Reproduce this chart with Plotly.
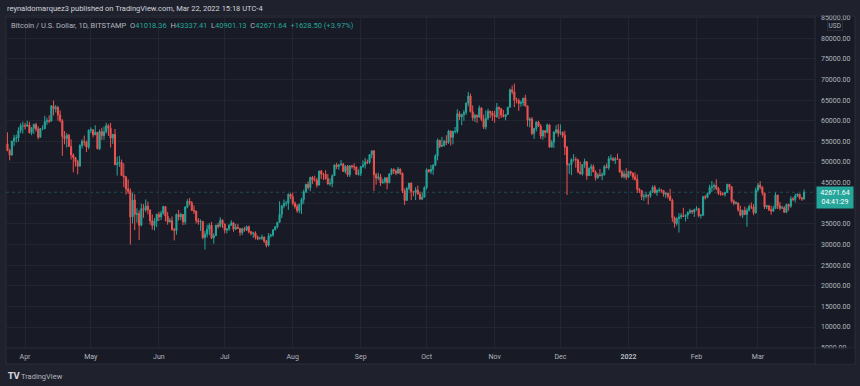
import plotly.graph_objects as go
import pandas as pd

# ---------------- data (BTC/USD daily, Bitstamp) ----------------
start_date = "2021-03-24"

opens = [
    54400, 52800, 51700, 55100, 55800, 55800, 57600, 58800,
    58800, 58700, 59000, 57100, 58200, 59100, 58000, 56000, 58100, 58100, 59800, 60000, 59900, 63600, 62900, 63200, 61400, 60000, 56200, 55700, 56500, 53800, 51700, 51100, 50100, 49000, 54000, 55000, 54800, 53600,
    57700, 57800, 56600, 57200, 53200, 57400, 56400, 57300, 58800, 58200, 55800, 56700, 49400, 49700, 49900, 46700, 46400, 43500, 42900, 36700, 40800, 37300, 37500, 34700, 38700, 38400, 39300, 38400, 35700, 34600, 35700,
    37300, 36700, 37600, 39200, 36900, 35500, 35800, 33600, 33400, 37300, 36700, 37300, 35500, 39100, 40500, 40100, 38300, 38100, 35800, 35500, 35600, 31700, 32500, 33700, 34700, 31600, 32200, 34700, 34400, 35900,
    35000, 33500, 33800, 34700, 35300, 33700, 34200, 33900, 32900, 33800, 33500, 34300, 33100, 32700, 32800, 31800, 31400, 31500, 31800, 30800, 29800, 32100, 32300, 33600, 34300, 35400, 37300, 39400, 40000, 40000, 42200,
    41600, 40000, 39200, 38200, 39700, 40900, 42800, 44600, 43800, 46300, 45600, 45600, 44400, 47800, 47100, 47000, 46000, 44700, 44800, 46700, 49300, 48900, 49300, 49500, 47700, 49000, 46900, 49100, 48900, 48800, 47000,
    47200, 48900, 49300, 50000, 49900, 51800, 52700, 46900, 46100, 46400, 44900, 45200, 46100, 45000, 47100, 48200, 47800, 47300, 48300, 47300, 43000, 40700, 43600, 44900, 42800, 42700, 43200, 42200, 41000, 41500,
    43800, 48100, 47700, 48200, 49200, 51500, 55300, 53800, 54000, 55000, 54700, 57500, 56000, 57400, 57400, 61700, 60900, 61500, 62000, 64300, 66000, 62200, 60700, 61300, 60900, 63100, 60300, 58500, 60600, 62300, 61900,
    61300, 61000, 63200, 62900, 61400, 61000, 61500, 63300, 67500, 67000, 65000, 64900, 64200, 64400, 65500, 63600, 60100, 60400, 56900, 58100, 59700, 58700, 56300, 57600, 57200, 59000, 53600, 54800, 57300, 57800,
    57000, 57200, 56500, 53600, 49300, 49400, 50600, 50600, 50500, 47600, 47100, 49400, 50100, 46700, 48400, 48900, 47600, 46200, 46900, 46700, 46900, 48900, 48600, 50800, 50800, 50400, 50800, 50700, 47600, 46500, 47100,
    46300, 47700, 47300, 46400, 45800, 43400, 43100, 41600, 41700, 41900, 41800, 42700, 43900, 42600, 43100, 43200, 43100, 42200, 42400, 41700, 40700, 36500, 35100, 36300, 36700, 37000, 36800, 37100, 37800, 38200, 37900,
    38500, 38700, 37000, 37100, 41600, 41400, 42400, 43800, 44100, 44300, 43600, 42400, 42200, 42200, 42600, 44600, 44000, 40500, 40000, 40100, 38400, 37100, 38300, 37300, 38300, 39200, 39100, 37700,
    43200, 44400, 43900, 42500, 39100, 39400, 38400, 38100, 38700, 42000, 39400, 38800, 38900, 37800, 39700, 39300, 41100, 40900, 41800, 42200, 41300, 41018.36,
]

highs = [
    57200, 53200, 55100, 56600, 56600, 58400, 59400, 59800,
    59500, 60000, 59800, 58500, 59300, 59500, 58700, 58200, 58900, 61200, 60700, 61300, 63800, 64900, 63800, 63600, 62500, 60400, 57500, 57000, 56800, 55500, 52100, 51200, 50500, 54300, 55500, 56400, 55200, 57900,
    58400, 57900, 58900, 57200, 57900, 58300, 58600, 59500, 59200, 59500, 56800, 58000, 51300, 51500, 50600, 49700, 46600, 45800, 43600, 42500, 42200, 38800, 38300, 39900, 39800, 40900, 40400, 38400, 37300, 36400, 37500,
    37900, 38200, 39400, 39200, 37900, 36400, 36800, 34000, 37500, 38400, 37700, 37400, 39300, 41000, 41300, 40500, 39500, 38200, 36400, 36100, 35700, 33300, 34800, 35200, 35500, 32700, 34700, 35300, 36600, 36100,
    35000, 33900, 34900, 35900, 35300, 35000, 35000, 33900, 34100, 34300, 34600, 34600, 33300, 33100, 33200, 32200, 31900, 32400, 31900, 31100, 32800, 32600, 33600, 34500, 35400, 40500, 39500, 40900, 40600, 42300, 42400,
    42600, 40400, 39800, 39900, 41300, 43300, 44700, 45300, 46400, 46600, 46700, 46200, 47900, 48100, 47400, 48000, 47100, 46000, 47000, 49400, 49800, 49500, 50500, 49800, 49200, 49300, 49200, 49300, 49700, 48900, 48200,
    49000, 50400, 51000, 50600, 51900, 52800, 52900, 47400, 47400, 47100, 45900, 46400, 46400, 47300, 48500, 48500, 48200, 48800, 48400, 47400, 43600, 44000, 44900, 45000, 42900, 43900, 44300, 42800, 42600, 44100,
    48500, 48300, 49300, 49500, 51900, 55700, 55300, 56100, 55400, 56500, 57800, 57600, 57600, 58500, 62800, 62300, 61700, 62600, 64400, 67000, 66600, 63700, 61700, 61500, 63700, 63300, 61500, 62500, 62900, 62400, 62400,
    62400, 64300, 63500, 63100, 62600, 61600, 63300, 67800, 68500, 69000, 65600, 65400, 64900, 65500, 66300, 63600, 60800, 60900, 58300, 59800, 60000, 59200, 57800, 57600, 59300, 59200, 55300, 57400, 58900, 59200,
    59100, 57400, 57600, 53900, 49700, 50900, 51900, 51200, 50800, 50100, 49500, 50800, 50200, 48700, 49500, 49400, 48000, 47300, 48300, 47500, 49300, 49600, 51400, 51800, 51200, 51200, 52000, 50700, 48100, 47900, 48500,
    47900, 47900, 47500, 47500, 47000, 43700, 43100, 42300, 42800, 42200, 43100, 44300, 44400, 43400, 43800, 43500, 43200, 42700, 42500, 43500, 41100, 36800, 36600, 37600, 37600, 38900, 37300, 38000, 38700, 38400, 38700,
    39300, 38900, 37400, 41800, 42000, 42600, 44500, 45400, 44800, 45800, 43900, 43000, 42700, 42800, 44700, 44600, 44200, 40900, 40500, 40100, 39400, 38400, 39200, 38900, 39700, 40200, 39800, 43800,
    44900, 45400, 44100, 42500, 39600, 39500, 39400, 39400, 42600, 42000, 40300, 39400, 39300, 39900, 39900, 41700, 41500, 42300, 42400, 42300, 41500, 43337.41,
]

lows = [
    52600, 50400, 51500, 53900, 54700, 54900, 57000, 56900,
    57900, 58500, 56900, 56500, 56800, 57400, 55500, 55900, 57700, 57900, 59000, 59400, 59900, 61300, 62000, 60000, 59600, 51500, 54300, 53500, 53700, 50600, 47500, 48900, 47000, 48900, 53300, 53900, 52400, 53100,
    57000, 56000, 56500, 53100, 52900, 55300, 55400, 56900, 56300, 53500, 54400, 49200, 46700, 48800, 46600, 43900, 42100, 42300, 30000, 35100, 33500, 35300, 31100, 34400, 36500, 37900, 37300, 34800, 33600, 33400, 34200,
    35700, 35900, 37200, 35600, 34800, 35300, 33400, 31000, 32400, 35800, 35900, 34700, 34800, 38800, 39500, 38100, 37400, 35100, 34800, 33300, 31300, 28800, 31700, 32300, 31300, 30200, 32000, 33900, 34200, 34000,
    32700, 32700, 33300, 34500, 33100, 33600, 33800, 32100, 32300, 33100, 33300, 32700, 32200, 31600, 31200, 31100, 31200, 31100, 30400, 29300, 29500, 31700, 31900, 33400, 33900, 35300, 36400, 38800, 39300, 38400, 41000,
    39500, 38700, 37700, 37600, 37400, 39900, 42500, 43300, 42900, 44700, 45300, 43800, 44300, 45900, 45600, 45700, 44500, 44200, 43900, 46600, 48300, 48100, 49100, 47600, 47200, 46400, 46400, 48400, 48000, 46900, 46700,
    46600, 48600, 48400, 49500, 49500, 50900, 43000, 44500, 45600, 44200, 44800, 44800, 43400, 44800, 46800, 47100, 46800, 47100, 46900, 42500, 39600, 40600, 43100, 40800, 41700, 40800, 42200, 40900, 40800, 41400,
    43300, 47400, 47100, 46900, 49100, 50400, 53400, 53700, 53700, 54100, 54400, 54000, 54300, 56900, 56900, 60200, 58900, 60000, 61400, 63500, 62000, 60000, 59700, 59500, 60700, 59900, 58000, 57900, 60200, 60700, 60000,
    59500, 60700, 60400, 60700, 60800, 60100, 61400, 63200, 66400, 63300, 64200, 62400, 63400, 63600, 63400, 58600, 58400, 56500, 55600, 57400, 58500, 55600, 55400, 55900, 57000, 53500, 53600, 53400, 56800, 56100,
    56500, 55900, 51700, 42000, 47100, 46800, 50100, 48600, 47300, 47000, 46700, 48600, 45700, 46600, 46600, 47600, 45500, 45900, 46500, 45600, 46700, 48500, 48100, 50400, 50200, 49500, 50500, 47400, 46100, 46000, 45700,
    46200, 46700, 45700, 45500, 42500, 42500, 40800, 40600, 41200, 39700, 41300, 42500, 42300, 41800, 42600, 42600, 41600, 41300, 41100, 40600, 35500, 34100, 34600, 32900, 36200, 36700, 35600, 36200, 37400, 37400, 36700,
    38200, 36600, 36300, 37000, 40900, 41200, 42100, 42700, 43200, 43200, 42000, 41800, 41900, 41600, 42500, 43300, 40100, 39500, 39700, 38000, 36800, 36400, 37100, 34300, 38000, 38600, 37100, 37500,
    42800, 43400, 41900, 38600, 38600, 38100, 37200, 37900, 38700, 38600, 38300, 38700, 37700, 37600, 38200, 38900, 40500, 40200, 41500, 40900, 40600, 40901.13,
]

closes = [
    52800, 51700, 55100, 55800, 55800, 57600, 58800, 58800,
    58700, 59000, 57100, 58200, 59100, 58000, 56000, 58100, 58100, 59800, 60000, 59900, 63600, 62900, 63200, 61400, 60000, 56200, 55700, 56500, 53800, 51700, 51100, 50100, 49000, 54000, 55000, 54800, 53600, 57700,
    57800, 56600, 57200, 53200, 57400, 56400, 57300, 58800, 58200, 55800, 56700, 49400, 49700, 49900, 46700, 46400, 43500, 42900, 36700, 40800, 37300, 37500, 34700, 38700, 38400, 39300, 38400, 35700, 34600, 35700, 37300,
    36700, 37600, 39200, 36900, 35500, 35800, 33600, 33400, 37300, 36700, 37300, 35500, 39100, 40500, 40100, 38300, 38100, 35800, 35500, 35600, 31700, 32500, 33700, 34700, 31600, 32200, 34700, 34400, 35900, 35000,
    33500, 33800, 34700, 35300, 33700, 34200, 33900, 32900, 33800, 33500, 34300, 33100, 32700, 32800, 31800, 31400, 31500, 31800, 30800, 29800, 32100, 32300, 33600, 34300, 35400, 37300, 39400, 40000, 40000, 42200, 41600,
    40000, 39200, 38200, 39700, 40900, 42800, 44600, 43800, 46300, 45600, 45600, 44400, 47800, 47100, 47000, 46000, 44700, 44800, 46700, 49300, 48900, 49300, 49500, 47700, 49000, 46900, 49100, 48900, 48800, 47000, 47200,
    48900, 49300, 50000, 49900, 51800, 52700, 46900, 46100, 46400, 44900, 45200, 46100, 45000, 47100, 48200, 47800, 47300, 48300, 47300, 43000, 40700, 43600, 44900, 42800, 42700, 43200, 42200, 41000, 41500, 43800,
    48100, 47700, 48200, 49200, 51500, 55300, 53800, 54000, 55000, 54700, 57500, 56000, 57400, 57400, 61700, 60900, 61500, 62000, 64300, 66000, 62200, 60700, 61300, 60900, 63100, 60300, 58500, 60600, 62300, 61900, 61300,
    61000, 63200, 62900, 61400, 61000, 61500, 63300, 67500, 67000, 65000, 64900, 64200, 64400, 65500, 63600, 60100, 60400, 56900, 58100, 59700, 58700, 56300, 57600, 57200, 59000, 53600, 54800, 57300, 57800, 57000,
    57200, 56500, 53600, 49300, 49400, 50600, 50600, 50500, 47600, 47100, 49400, 50100, 46700, 48400, 48900, 47600, 46200, 46900, 46700, 46900, 48900, 48600, 50800, 50800, 50400, 50800, 50700, 47600, 46500, 47100, 46300,
    47700, 47300, 46400, 45800, 43400, 43100, 41600, 41700, 41900, 41800, 42700, 43900, 42600, 43100, 43200, 43100, 42200, 42400, 41700, 40700, 36500, 35100, 36300, 36700, 37000, 36800, 37100, 37800, 38200, 37900, 38500,
    38700, 37000, 37100, 41600, 41400, 42400, 43800, 44100, 44300, 43600, 42400, 42200, 42200, 42600, 44600, 44000, 40500, 40000, 40100, 38400, 37100, 38300, 37300, 38300, 39200, 39100, 37700, 43200,
    44400, 43900, 42500, 39100, 39400, 38400, 38100, 38700, 42000, 39400, 38800, 38900, 37800, 39700, 39300, 41100, 40900, 41800, 42200, 41300, 41043.14, 42671.64,
]

month_ticks = ["2021-04-01", "2021-05-01", "2021-06-01", "2021-07-01", "2021-08-01", "2021-09-01",
               "2021-10-01", "2021-11-01", "2021-12-01", "2022-01-01", "2022-02-01", "2022-03-01"]
month_labels = ["Apr", "May", "Jun", "Jul", "Aug", "Sep", "Oct", "Nov", "Dec",
                "<b>2022</b>", "Feb", "Mar"]
price_ticks = list(range(5000, 85001, 5000))
# the 40000 label sits under the last-price tag in the reference, so it is left blank
price_labels = ["" if v == 40000 else f"{v:.2f}" for v in price_ticks]

x_range = ["2021-03-23 08:00", "2022-03-27 00:00"]
y_range = [4920, 85390]

header_text = "reynaldomarquez3 published on TradingView.com, Mar 22, 2022 15:18 UTC-4"
symbol_text = "Bitcoin / U.S. Dollar, 1D, BITSTAMP"
countdown = "04:41:29"

# ---------------- styling ----------------
UP = "#26a69a"
DOWN = "#ef5350"
PANE = "#181b26"
OUTER = "#1f222d"
BORDER = "#2a2e39"
GRID = "#232631"
TXT = "#b2b5be"
FONT = "Roboto, Liberation Sans, sans-serif"

W, H = 860, 386
L, R, T, B = 6, 815, 16, 348


def fx(px):
    return (px - L) / (R - L)


def fy(py):
    return (B - py) / (B - T)


dates = pd.date_range(start_date, periods=len(closes), freq="D")
assert len(opens) == len(highs) == len(lows) == len(closes)

fig = go.Figure()
fig.add_trace(go.Candlestick(
    x=dates, open=opens, high=highs, low=lows, close=closes,
    increasing=dict(line=dict(color=UP, width=1), fillcolor=UP),
    decreasing=dict(line=dict(color=DOWN, width=1), fillcolor=DOWN),
    whiskerwidth=0, hoverinfo="skip", showlegend=False,
))

last_close = closes[-1]
chg = closes[-1] - closes[-2]
pct = chg / closes[-2] * 100

shapes = [
    # pane background + border
    dict(type="rect", xref="paper", yref="paper", x0=fx(6), x1=fx(855), y0=fy(364), y1=fy(16),
         fillcolor=PANE, line=dict(color=BORDER, width=1), layer="below"),
    # price scale separator
    dict(type="line", xref="paper", yref="paper", x0=1, x1=1, y0=fy(364), y1=1,
         line=dict(color=BORDER, width=1), layer="above"),
    # time scale separator
    dict(type="line", xref="paper", yref="paper", x0=0, x1=fx(855), y0=0, y1=0,
         line=dict(color=BORDER, width=1), layer="above"),
    # clip price labels at bottom and top
    dict(type="rect", xref="paper", yref="paper", x0=fx(816), x1=fx(854.5), y0=fy(363.5), y1=fy(348.6),
         fillcolor=PANE, line=dict(width=0), layer="above"),
    dict(type="rect", xref="paper", yref="paper", x0=fx(816), x1=fx(860), y0=fy(15.5), y1=fy(0),
         fillcolor=OUTER, line=dict(width=0), layer="above"),
    # last price dotted line
    dict(type="line", xref="paper", yref="y", x0=0, x1=1, y0=last_close, y1=last_close,
         line=dict(color=UP, width=1, dash="dot"), opacity=0.35, layer="below"),
]

legend_html = (
    f"<span style='color:{TXT}'>{symbol_text}&nbsp;&nbsp;</span>"
    f"<span style='color:{TXT}'>O</span><span style='color:{UP}'>{opens[-1]:.2f}</span>&nbsp;&nbsp;"
    f"<span style='color:{TXT}'>H</span><span style='color:{UP}'>{highs[-1]:.2f}</span>&nbsp;&nbsp;"
    f"<span style='color:{TXT}'>L</span><span style='color:{UP}'>{lows[-1]:.2f}</span>&nbsp;&nbsp;"
    f"<span style='color:{TXT}'>C</span><span style='color:{UP}'>{closes[-1]:.2f}</span>&nbsp;&nbsp;"
    f"<span style='color:{UP}'>{chg:+.2f} ({pct:+.2f}%)</span>"
)

annotations = [
    dict(text=header_text, xref="paper", yref="paper", x=fx(5), y=fy(9), xanchor="left", yanchor="middle",
         showarrow=False, font=dict(family=FONT, size=7.5, color="#d1d4dc")),
    dict(text=legend_html, xref="paper", yref="paper", x=fx(9), y=fy(25), xanchor="left", yanchor="middle",
         showarrow=False, font=dict(family=FONT, size=7.5, color=TXT)),
    dict(text="USD", xref="paper", yref="paper", x=fx(834.5), y=fy(25), xanchor="center", yanchor="middle",
         showarrow=False, font=dict(family=FONT, size=6.5, color=TXT), bgcolor=PANE,
         bordercolor="#363a45", borderwidth=0.6, borderpad=1),
    dict(text=f"{last_close:.2f}<br>{countdown}", xref="paper", yref="y", x=fx(816), y=last_close,
         xanchor="left", yanchor="top", yshift=6, showarrow=False, align="center",
         font=dict(family=FONT, size=7, color="#ffffff"), bgcolor=UP, width=34, height=19, borderpad=1),
    dict(text="<b>TV</b>", xref="paper", yref="paper", x=fx(6), y=fy(376.5), xanchor="left", yanchor="middle",
         showarrow=False, font=dict(family="DejaVu Sans", size=8, color="#d1d4dc")),
    dict(text="TradingView", xref="paper", yref="paper", x=fx(19), y=fy(376.5), xanchor="left", yanchor="middle",
         showarrow=False, font=dict(family=FONT, size=7.5, color=TXT)),
]

fig.update_layout(
    width=W, height=H, autosize=False,
    margin=dict(l=L, r=W - R, t=T, b=H - B, pad=0),
    paper_bgcolor=OUTER, plot_bgcolor=PANE,
    font=dict(family=FONT, size=7, color=TXT),
    shapes=shapes, annotations=annotations,
    xaxis=dict(type="date", range=x_range, tickvals=month_ticks, ticktext=month_labels,
               showgrid=True, gridcolor=GRID, gridwidth=1, ticks="", showline=False, zeroline=False,
               tickfont=dict(family=FONT, size=7, color=TXT), ticklabelstandoff=3,
               rangeslider=dict(visible=False), fixedrange=True),
    yaxis=dict(side="right", range=y_range, tickvals=price_ticks, ticktext=price_labels,
               showgrid=True, gridcolor=GRID, gridwidth=1, ticks="", showline=False, zeroline=False,
               tickfont=dict(family=FONT, size=7, color=TXT), ticklabelstandoff=5, fixedrange=True),
)

fig.write_html("out.html", post_script="document.body.style.margin='0';document.body.style.overflow='hidden';",
               config={"displayModeBar": False})
